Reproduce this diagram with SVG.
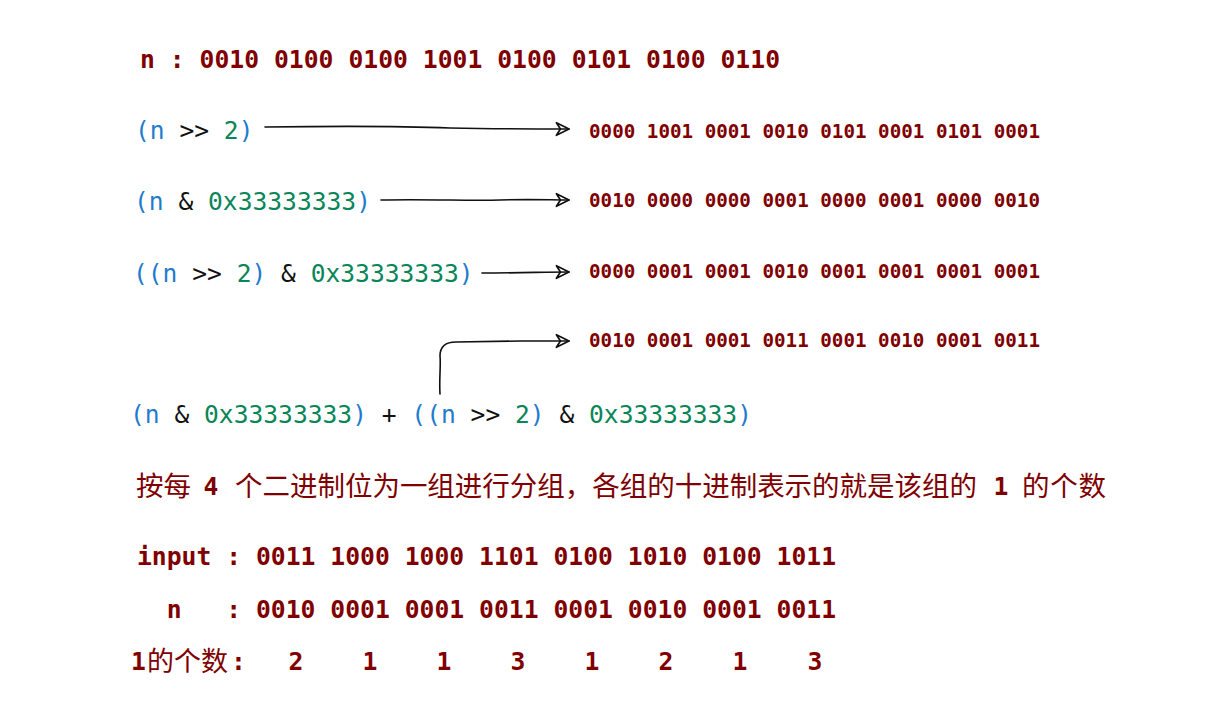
<svg xmlns="http://www.w3.org/2000/svg" width="1216" height="712" viewBox="0 0 1216 712">
<style>
.bold{font-family:"DejaVu Sans Mono","Liberation Mono",monospace;font-weight:bold;fill:#800000;white-space:pre}
.big{font-size:24.7px}
.small{font-size:19.2px}
.code{font-family:"DejaVu Sans Mono","Liberation Mono",monospace;font-size:24.6px;fill:#000;white-space:pre}
.b{fill:#1f7ccc}
.g{fill:#098658}
.k{fill:#111}
.cjk{font-family:"Noto Sans CJK SC","Noto Sans",sans-serif;font-size:27.5px;fill:#800000}
.arrow{fill:none;stroke:#111;stroke-width:1.6;stroke-linecap:round;stroke-linejoin:round}
</style>
<defs>
<marker id="ah" markerUnits="userSpaceOnUse" markerWidth="16" markerHeight="16" viewBox="0 0 14 14" refX="12" refY="7" orient="auto">
<path d="M1,1.5 L12,7 L1,12.5 L4.5,7 Z" fill="none" stroke="#111" stroke-width="1.5" stroke-linejoin="round"/>
</marker>
</defs>
<rect width="1216" height="712" fill="#fff"/>

<g id="n-value">
<text class="bold big" x="140" y="68" textLength="640" lengthAdjust="spacing">n : 0010 0100 0100 1001 0100 0101 0100 0110</text>
</g>

<g id="expr-shift">
<text class="code" x="135" y="139" xml:space="preserve"><tspan class="b">(n</tspan><tspan class="k"> &gt;&gt; </tspan><tspan class="g">2</tspan><tspan class="b">)</tspan></text>
</g>
<g id="res-shift">
<text class="bold small" x="589" y="138" textLength="451" lengthAdjust="spacing">0000 1001 0001 0010 0101 0001 0101 0001</text>
</g>

<g id="expr-mask">
<text class="code" x="134" y="210" xml:space="preserve"><tspan class="b">(n</tspan><tspan class="k"> &amp; </tspan><tspan class="g">0x33333333</tspan><tspan class="b">)</tspan></text>
</g>
<g id="res-mask">
<text class="bold small" x="589" y="207" textLength="451" lengthAdjust="spacing">0010 0000 0000 0001 0000 0001 0000 0010</text>
</g>

<g id="expr-shift-mask">
<text class="code" x="133" y="282" xml:space="preserve"><tspan class="b">((n</tspan><tspan class="k"> &gt;&gt; </tspan><tspan class="g">2</tspan><tspan class="b">)</tspan><tspan class="k"> &amp; </tspan><tspan class="g">0x33333333</tspan><tspan class="b">)</tspan></text>
</g>
<g id="res-shift-mask">
<text class="bold small" x="589" y="278" textLength="451" lengthAdjust="spacing">0000 0001 0001 0010 0001 0001 0001 0001</text>
</g>

<g id="res-sum">
<text class="bold small" x="589" y="347" textLength="451" lengthAdjust="spacing">0010 0001 0001 0011 0001 0010 0001 0011</text>
</g>
<g id="expr-sum">
<text class="code" x="130" y="423" xml:space="preserve"><tspan class="b">(n</tspan><tspan class="k"> &amp; </tspan><tspan class="g">0x33333333</tspan><tspan class="b">)</tspan><tspan class="k"> + </tspan><tspan class="b">((n</tspan><tspan class="k"> &gt;&gt; </tspan><tspan class="g">2</tspan><tspan class="b">)</tspan><tspan class="k"> &amp; </tspan><tspan class="g">0x33333333</tspan><tspan class="b">)</tspan></text>
</g>

<g id="connectors">
<path class="arrow" d="M265,127 C340,126 400,126 450,128 C500,129 540,129 569,129" marker-end="url(#ah)"/>
<path class="arrow" d="M381,200 C430,199 470,201 500,200 C530,199 550,200 569,200" marker-end="url(#ah)"/>
<path class="arrow" d="M482,273 C520,273 545,272 569,272" marker-end="url(#ah)"/>
<path class="arrow" d="M440,394 C439,380 441,365 440,356 Q440,342 456,342 L520,341 L569,341" marker-end="url(#ah)"/>
</g>

<g id="explanation">
<text class="cjk" x="136" y="496">按每</text>
<text class="bold big" x="211" y="495" text-anchor="middle">4</text>
<text class="cjk" x="235" y="496" textLength="742" lengthAdjust="spacing">个二进制位为一组进行分组，各组的十进制表示的就是该组的</text>
<text class="bold big" x="1001" y="495" text-anchor="middle">1</text>
<text class="cjk" x="1022" y="496" textLength="84" lengthAdjust="spacing">的个数</text>
</g>

<g id="input-row">
<text class="bold big" x="137" y="565" textLength="699" lengthAdjust="spacing" xml:space="preserve">input : 0011 1000 1000 1101 0100 1010 0100 1011</text>
</g>
<g id="n-row">
<text class="bold big" x="137" y="618" textLength="699" lengthAdjust="spacing" xml:space="preserve">  n   : 0010 0001 0001 0011 0001 0010 0001 0011</text>
</g>
<g id="count-row">
<text class="bold big" x="131" y="670">1</text>
<text class="cjk" x="147" y="671" style="font-size:27px">的个数</text>
<text class="bold big" x="231" y="670">:</text>
<text class="bold big" x="296" y="670" text-anchor="middle">2</text>
<text class="bold big" x="370" y="670" text-anchor="middle">1</text>
<text class="bold big" x="444" y="670" text-anchor="middle">1</text>
<text class="bold big" x="518" y="670" text-anchor="middle">3</text>
<text class="bold big" x="592" y="670" text-anchor="middle">1</text>
<text class="bold big" x="666" y="670" text-anchor="middle">2</text>
<text class="bold big" x="740" y="670" text-anchor="middle">1</text>
<text class="bold big" x="815" y="670" text-anchor="middle">3</text>
</g>
</svg>
